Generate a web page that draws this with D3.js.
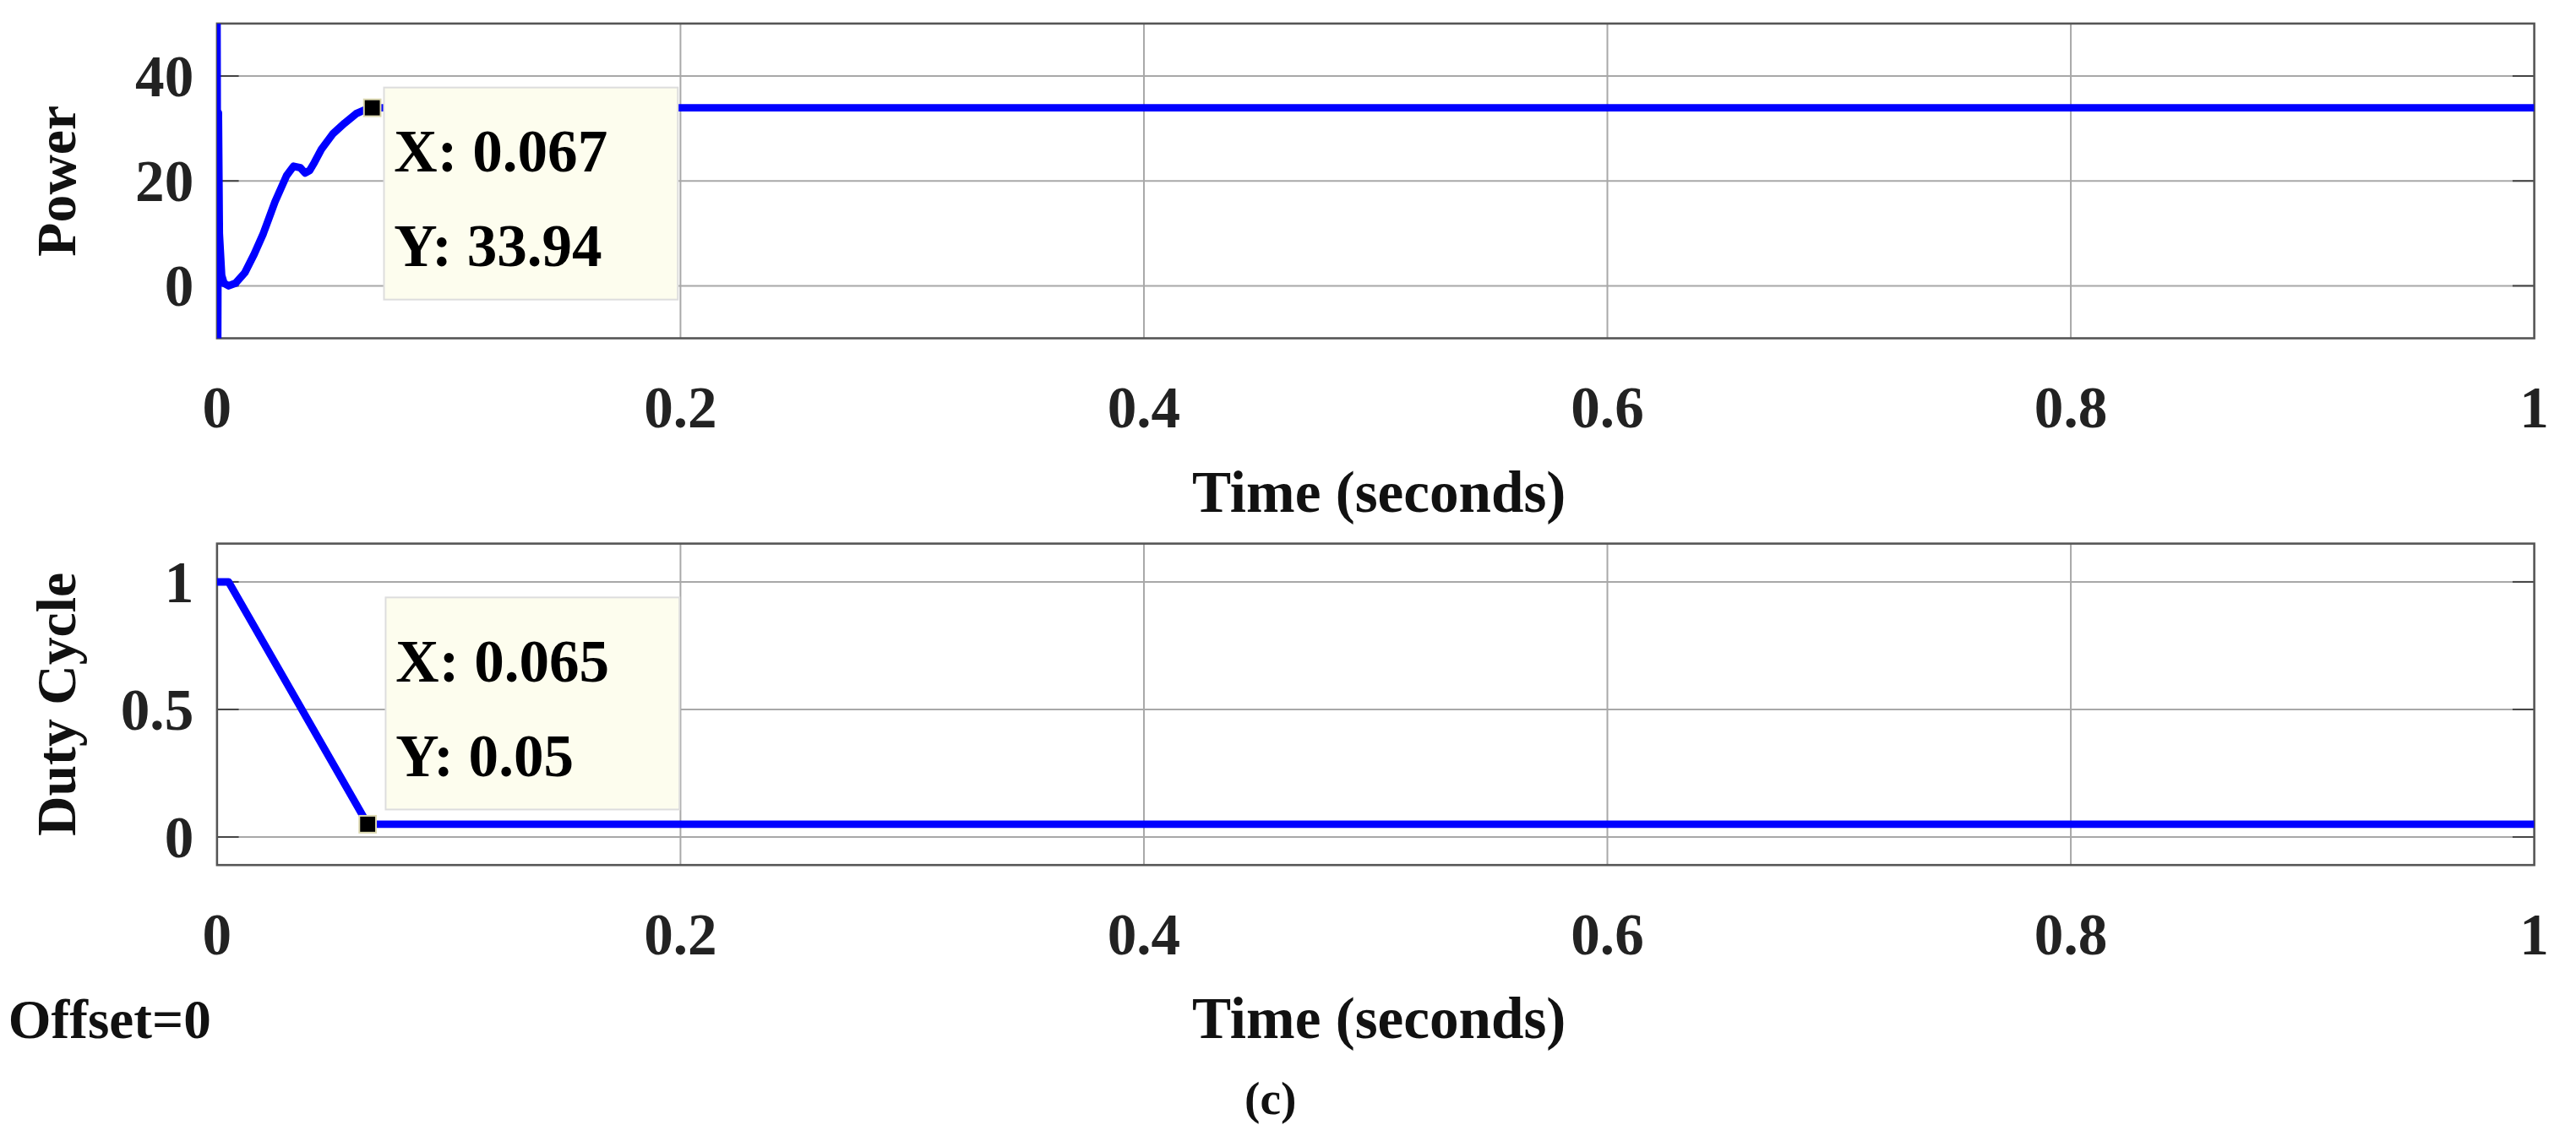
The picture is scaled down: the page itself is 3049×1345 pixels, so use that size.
<!DOCTYPE html>
<html><head><meta charset="utf-8">
<script src="https://cdn.jsdelivr.net/npm/d3@7"></script>
<style>body{margin:0;background:#fff}svg{display:block}</style>
</head><body>
<svg id="fig" width="3049" height="1345" viewBox="0 0 1543 675" preserveAspectRatio="none"></svg>
<script>
// power trace (time s, W)
const powerT = [0, 0.0003, 0.0006, 0.001, 0.002, 0.003, 0.005, 0.008, 0.012, 0.016, 0.02, 0.025, 0.03, 0.033, 0.036, 0.038, 0.040, 0.042, 0.045, 0.05, 0.055, 0.06, 0.064, 0.067, 0.1, 0.3, 0.5, 0.7, 1.0];
const powerV = [50, -10, 33, 10, 2, 0.5, 0, 0.5, 2.5, 6, 10, 16, 21, 22.8, 22.5, 21.5, 22, 23.5, 26, 29, 31, 32.8, 33.6, 33.94, 33.94, 33.94, 33.94, 33.94, 33.94];
const dutyT = [0, 0.005, 0.065, 0.0655, 0.1, 0.5, 1.0];
const dutyV = [1, 1, 0.05, 0.05, 0.05, 0.05, 0.05];
const xTicks = [0, 0.2, 0.4, 0.6, 0.8, 1];
const powerTicks = [0, 20, 40];
const dutyTicks = [0, 0.5, 1];
const tips = [{x: 0.067, y: 33.94, lx: 'X: 0.067', ly: 'Y: 33.94'}, {x: 0.065, y: 0.05, lx: 'X: 0.065', ly: 'Y: 0.05'}];

const svg = d3.select('#fig');
const font = '"Liberation Serif", "DejaVu Serif", serif';
const L = 130, R = 1518;

function panel (top, bottom, yDomain, yTicks, yLabel, tT, tV, tip, tipBox) {
    const x = d3.scaleLinear().domain([0, 1]).range([L, R]);
    const y = d3.scaleLinear().domain(yDomain).range([bottom, top]);
    const g = svg.append('g');
    g.selectAll('.vg').data(xTicks.slice(1, -1)).enter().append('line')
        .attr('x1', d => x(d)).attr('x2', d => x(d)).attr('y1', top).attr('y2', bottom)
        .attr('stroke', '#a8a8a8').attr('stroke-width', 1);
    g.selectAll('.hg').data(yTicks).enter().append('line')
        .attr('x1', L).attr('x2', R).attr('y1', d => y(d)).attr('y2', d => y(d))
        .attr('stroke', '#a8a8a8').attr('stroke-width', 1);
    yTicks.forEach(d => {
        g.append('line').attr('x1', L).attr('x2', L + 13).attr('y1', y(d)).attr('y2', y(d)).attr('stroke', '#444');
        g.append('line').attr('x1', R - 13).attr('x2', R).attr('y1', y(d)).attr('y2', y(d)).attr('stroke', '#444');
    });
    g.append('rect').attr('x', L).attr('y', top).attr('width', R - L).attr('height', bottom - top)
        .attr('fill', 'none').attr('stroke', '#555').attr('stroke-width', 1.3);
    g.selectAll('.xl').data(xTicks).enter().append('text')
        .attr('x', d => x(d)).attr('y', bottom + 53).attr('text-anchor', 'middle')
        .attr('font-family', font).attr('font-weight', 'bold').attr('font-size', 35).attr('fill', '#222')
        .text(d => d);
    g.selectAll('.yl').data(yTicks).enter().append('text')
        .attr('x', 116).attr('y', d => y(d) + 12).attr('text-anchor', 'end')
        .attr('font-family', font).attr('font-weight', 'bold').attr('font-size', 35).attr('fill', '#222')
        .text(d => d);
    g.append('text').attr('transform', `translate(45,${(top + bottom) / 2}) rotate(-90)`)
        .attr('text-anchor', 'middle').attr('font-family', font).attr('font-weight', 'bold')
        .attr('font-size', 33).attr('fill', '#111').text(yLabel);
    g.append('text').attr('x', 826).attr('y', bottom + 103).attr('text-anchor', 'middle')
        .attr('font-family', font).attr('font-weight', 'bold').attr('font-size', 35).attr('fill', '#111')
        .text('Time (seconds)');
    const clip = 'clip' + top;
    svg.append('clipPath').attr('id', clip).append('rect').attr('x', L).attr('y', top).attr('width', R - L).attr('height', bottom - top);
    const pts = tT.map((t, i) => [x(t), y(tV[i])]);
    g.append('path').attr('clip-path', `url(#${clip})`).attr('d', d3.line()(pts))
        .attr('fill', 'none').attr('stroke', '#0000ff').attr('stroke-width', 4.5).attr('stroke-linejoin', 'round');
    g.append('rect').attr('x', tipBox[0]).attr('y', tipBox[1]).attr('width', 176).attr('height', 126)
        .attr('fill', '#fdfdee').attr('stroke', '#ddd').attr('stroke-width', 1);
    g.append('text').attr('x', tipBox[0] + 6).attr('y', tipBox[1] + 50).attr('font-family', font)
        .attr('font-weight', 'bold').attr('font-size', 36).attr('fill', '#000').text(tip.lx);
    g.append('text').attr('x', tipBox[0] + 6).attr('y', tipBox[1] + 106).attr('font-family', font)
        .attr('font-weight', 'bold').attr('font-size', 36).attr('fill', '#000').text(tip.ly);
    g.append('rect').attr('x', x(tip.x) - 5).attr('y', y(tip.y) - 5).attr('width', 10).attr('height', 10)
        .attr('fill', '#000').attr('stroke', '#dcd8b0').attr('stroke-width', 1);
}

panel(14, 201, [-10, 50], powerTicks, 'Power', powerT, powerV, tips[0], [230, 52]);
panel(323, 514, [-0.11, 1.15], dutyTicks, 'Duty Cycle', dutyT, dutyV, tips[1], [231, 355]);

svg.append('text').attr('x', 5).attr('y', 617).attr('font-family', font).attr('font-weight', 'bold')
    .attr('font-size', 33).attr('fill', '#111').text('Offset=0');
svg.append('text').attr('x', 761).attr('y', 662).attr('text-anchor', 'middle').attr('font-family', font)
    .attr('font-weight', 'bold').attr('font-size', 28).attr('fill', '#111').text('(c)');
</script>
</body></html>
